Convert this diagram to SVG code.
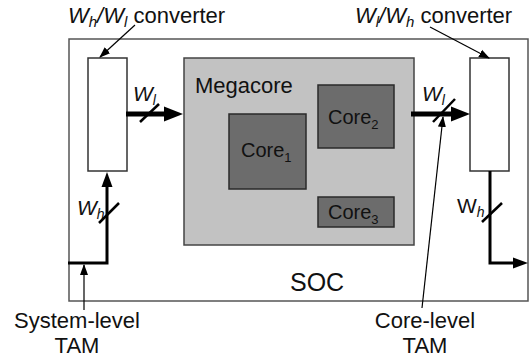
<svg xmlns="http://www.w3.org/2000/svg" width="531" height="360" viewBox="0 0 531 360">
<defs>
<style>
text{font-family:"Liberation Sans",Arial,sans-serif;fill:#111}
.soc{fill:#fff;stroke:#555;stroke-width:1.5}
.conv{fill:#fff;stroke:#333;stroke-width:1.5}
.mega{fill:#c2c2c2;stroke:#444;stroke-width:1.5}
.core{fill:#6c6c6c;stroke:#2a2a2a;stroke-width:1.5}
.thick{fill:none;stroke:#000;stroke-width:5}
.med{fill:none;stroke:#000;stroke-width:3;stroke-linejoin:miter}
.slash{stroke:#000;stroke-width:2.5}
.thin{fill:none;stroke:#000;stroke-width:1.2}
.it{font-style:italic}
</style>
<marker id="bigArrow" markerUnits="userSpaceOnUse" markerWidth="20" markerHeight="16" refX="1" refY="8" orient="auto">
<path d="M0,0.5 L19,8 L0,15.5 z" fill="#000"/>
</marker>
<marker id="medArrow" markerUnits="userSpaceOnUse" markerWidth="16" markerHeight="12" refX="1" refY="6" orient="auto">
<path d="M0,0.5 L15,6 L0,11.5 z" fill="#000"/>
</marker>
<marker id="smallArrow" markerUnits="userSpaceOnUse" markerWidth="11" markerHeight="9" refX="10" refY="4.5" orient="auto">
<path d="M0,0.5 L11,4.5 L0,8.5 z" fill="#000"/>
</marker>
</defs>
<rect width="531" height="360" fill="#fff"/>

<g id="soc">
<rect class="soc" x="69" y="39" width="459" height="262"/>
<text x="290" y="291" font-size="25">SOC</text>
</g>

<g id="megacore">
<rect class="mega" x="184" y="58" width="230" height="187"/>
<text x="195" y="93" font-size="22">Megacore</text>
</g>

<g id="core1">
<rect class="core" x="229" y="114" width="77" height="75"/>
<text x="241" y="157" font-size="20">Core<tspan font-size="13" dy="5">1</tspan></text>
</g>

<g id="core2">
<rect class="core" x="318" y="85" width="76" height="63"/>
<text x="328" y="124" font-size="20">Core<tspan font-size="13" dy="5">2</tspan></text>
</g>

<g id="core3">
<rect class="core" x="318" y="197" width="76" height="30"/>
<text x="328" y="219" font-size="20">Core<tspan font-size="13" dy="5">3</tspan></text>
</g>

<g id="converter-left">
<rect class="conv" x="88" y="58" width="39" height="113"/>
<text x="68" y="23" font-size="22"><tspan class="it">W</tspan><tspan class="it" font-size="15" dy="4">h</tspan><tspan class="it" dy="-4">/W</tspan><tspan class="it" font-size="15" dy="4">l</tspan><tspan dy="-4"> converter</tspan></text>
</g>

<g id="converter-right">
<rect class="conv" x="470" y="58" width="39" height="113"/>
<text x="355" y="23" font-size="22"><tspan class="it">W</tspan><tspan class="it" font-size="15" dy="4">l</tspan><tspan class="it" dy="-4">/W</tspan><tspan class="it" font-size="15" dy="4">h</tspan><tspan dy="-4"> converter</tspan></text>
</g>

<g id="labels">
<text x="77" y="328" font-size="22" text-anchor="middle">System-level</text>
<text x="77" y="353" font-size="22" text-anchor="middle">TAM</text>
<text x="425" y="328" font-size="22" text-anchor="middle">Core-level</text>
<text x="425" y="353" font-size="22" text-anchor="middle">TAM</text>
<text x="133" y="101" font-size="21" class="it">W<tspan font-size="14" dy="4">l</tspan></text>
<text x="422" y="101" font-size="21" class="it">W<tspan font-size="14" dy="4">l</tspan></text>
<text x="77" y="215" font-size="21" class="it">W<tspan font-size="14" dy="4">h</tspan></text>
<text x="457" y="213" font-size="21">W<tspan font-size="14" dy="4" class="it">h</tspan></text>
</g>

<g id="connectors">
<line class="thick" x1="126" y1="114" x2="165" y2="114" marker-end="url(#bigArrow)"/>
<line class="slash" x1="140" y1="122" x2="159" y2="104"/>
<line class="thick" x1="411" y1="114" x2="452" y2="114" marker-end="url(#bigArrow)"/>
<line class="slash" x1="433" y1="122" x2="455" y2="99"/>
<polyline class="med" points="68,263 107,263 107,186" marker-end="url(#medArrow)"/>
<line class="slash" x1="99" y1="223" x2="119" y2="203"/>
<polyline class="med" points="490,171 490,263 514,263" marker-end="url(#medArrow)"/>
<line class="slash" x1="482" y1="222" x2="502" y2="203"/>
<line class="thin" x1="84" y1="310" x2="84" y2="265" marker-end="url(#smallArrow)"/>
<line class="thin" x1="422" y1="308" x2="443" y2="117" marker-end="url(#smallArrow)"/>
<line class="thin" x1="135" y1="25" x2="100" y2="57" marker-end="url(#smallArrow)"/>
<line class="thin" x1="430" y1="27" x2="489" y2="58" marker-end="url(#smallArrow)"/>
</g>
</svg>
